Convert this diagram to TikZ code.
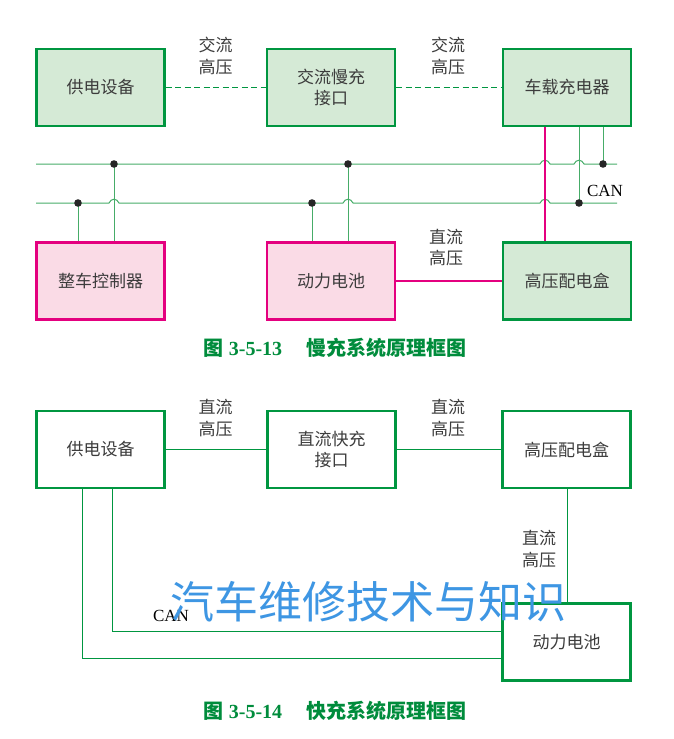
\documentclass[tikz,border=0pt]{standalone}
\usepackage{fontspec}
\setmainfont{Liberation Serif}
\newfontfamily\cjk{Noto Sans CJK SC}

\definecolor{boxgreen}{RGB}{0,150,64}
\definecolor{fillgreen}{RGB}{213,234,214}
\definecolor{boxpink}{RGB}{228,0,127}
\definecolor{fillpink}{RGB}{250,219,230}
\definecolor{busgreen}{RGB}{70,172,104}
\definecolor{txtgray}{RGB}{60,60,60}
\definecolor{capgreen}{RGB}{0,140,60}
\definecolor{wmblue}{RGB}{62,150,227}

\begin{document}
\begin{tikzpicture}[x=1pt,y=-1pt,
	blk/.style={draw=boxgreen,line width=2.2pt,minimum width=128pt,minimum height=77pt,inner sep=0pt,align=center,text=txtgray,font=\cjk\fontsize{17}{21.5}\selectfont},
	gblk/.style={blk,fill=fillgreen},
	pblk/.style={blk,draw=boxpink,fill=fillpink},
	wblk/.style={blk,fill=white},
	lbl/.style={align=center,inner sep=0pt,text=txtgray,font=\cjk\fontsize{17}{21.5}\selectfont},
	canlbl/.style={inner sep=0pt,font=\fontsize{17}{17}\selectfont},
	bus/.style={draw=busgreen,line width=1pt},
	hv/.style={draw=boxpink,line width=2pt},
	wire/.style={draw=boxgreen,line width=0.8pt},
	figcap/.style={inner sep=0pt,text=capgreen,font=\bfseries\fontsize{20}{20}\selectfont}]
	
	\useasboundingbox (0,0) rectangle (673,739); % keeps the page size
	
	\def\yA{164}% upper CAN line
	\def\yB{203}% lower CAN line
	
	%%% slow charging (top)
	\node[gblk] (supplyA) at (100.5,87.5) {供电设备};
	\node[gblk] (acport) at (331,87.5) {交流慢充\\接口};
	\node[gblk] (charger) at (567,87.5) {车载充电器};
	\node[pblk] (vcu) at (100.5,281) {整车控制器};
	\node[pblk] (batteryA) at (331,281) {动力电池};
	\node[gblk] (hvboxA) at (567,281) {高压配电盒};
	
	\node[lbl] (acA) at (215.5,56) {交流\\高压};
	\node[lbl] (acB) at (448,56) {交流\\高压};
	\node[lbl] (dcA) at (446,247.5) {直流\\高压};
	\node[canlbl] (canA) at (605,191) {CAN};
	
	\draw[wire,line width=1.1pt,dash pattern=on 6pt off 3.5pt] (supplyA) -- (acport);
	\draw[wire,line width=1.1pt,dash pattern=on 6pt off 3.5pt] (acport) -- (charger);
	
	% the junctions on the two CAN lines
	\coordinate (j1) at (114,\yA);
	\coordinate (j2) at (348,\yA);
	\coordinate (j3) at (603,\yA);
	\coordinate (j4) at (78,\yB);
	\coordinate (j5) at (312,\yB);
	\coordinate (j6) at (579,\yB);
	
	% CAN lines, with a small hop where a wire goes across
	\draw[bus] (36,\yA) foreach \h in {545,579}{
		-- (\h-5,\yA) .. controls (\h-3,\yA-5) and (\h+3,\yA-5) .. (\h+5,\yA)} -- (617,\yA);
	\draw[bus] (36,\yB) foreach \h in {114,348,545}{
		-- (\h-5,\yB) .. controls (\h-3,\yB-5) and (\h+3,\yB-5) .. (\h+5,\yB)} -- (617,\yB);
	
	\draw[bus] (j1) -- (vcu.north -| j1);
	\draw[bus] (j4) -- (vcu.north -| j4);
	\draw[bus] (j2) -- (batteryA.north -| j2);
	\draw[bus] (j5) -- (batteryA.north -| j5);
	\draw[bus] (charger.south -| j3) -- (j3);
	\draw[bus] (charger.south -| j6) -- (j6);
	
	\foreach \j in {j1,j2,j3,j4,j5,j6}
		\fill[black!85] (\j) circle (3.8pt);
	
	\coordinate (hvx) at (545,0);
	\draw[hv] (charger.south -| hvx) -- (hvboxA.north -| hvx);
	\draw[hv] (batteryA) -- (hvboxA);
	
	\node[figcap] (capA) at (335,348) {{\cjk 图} 3-5-13\hspace{1.2em}{\cjk 慢充系统原理框图}};
	
	%%% fast charging (bottom)
	\node[wblk] (supplyB) at (100.5,449.5) {供电设备};
	\node[wblk] (dcport) at (331.5,449.5) {直流快充\\接口};
	\node[wblk] (hvboxB) at (566.5,449.5) {高压配电盒};
	\node[wblk] (batteryB) at (566.5,642) {动力电池};
	
	\node[lbl] (dcB) at (215.5,418) {直流\\高压};
	\node[lbl] (dcC) at (448,418) {直流\\高压};
	\node[lbl] (dcD) at (539,549) {直流\\高压};
	\node[canlbl] (canB) at (171,616) {CAN};
	
	\draw[wire] (supplyB) -- (dcport);
	\draw[wire] (dcport) -- (hvboxB);
	
	\coordinate (c1) at (82,658);
	\coordinate (c2) at (112,631);
	\coordinate (c3) at (567,0);
	\draw[wire] (supplyB.south -| c1) |- (batteryB.west |- c1);
	\draw[wire] (supplyB.south -| c2) |- (batteryB.west |- c2);
	\draw[wire] (hvboxB.south -| c3) -- (batteryB.north -| c3);
	
	\node[figcap] (capB) at (335,711) {{\cjk 图} 3-5-14\hspace{1.2em}{\cjk 快充系统原理框图}};
	
	% watermark over the lower picture
	\node[inner sep=0pt,text=wmblue,font=\cjk\fontsize{44}{44}\selectfont] (wm) at (368,602) {汽车维修技术与知识};
	
\end{tikzpicture}
\end{document}
